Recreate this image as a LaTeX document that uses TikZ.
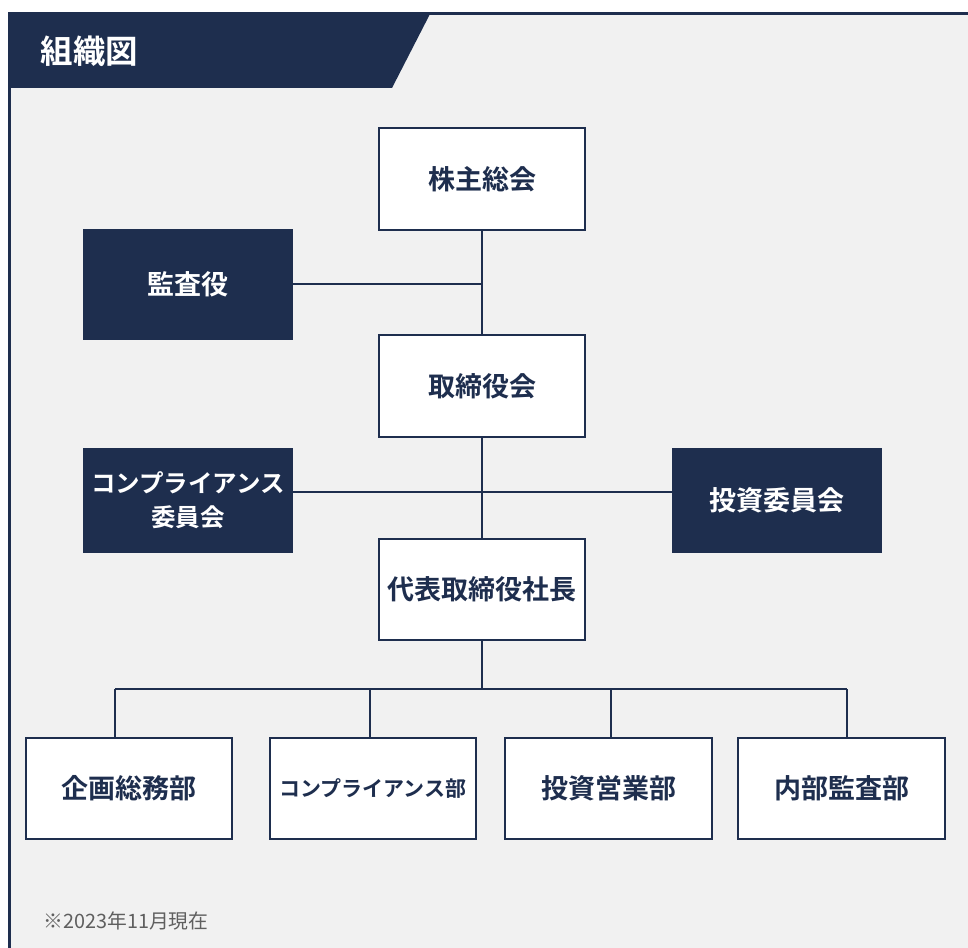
\documentclass[tikz,border=0pt]{standalone}
\usepackage{fontspec}
\setmainfont{Noto Sans CJK JP}[BoldFont={Noto Sans CJK JP Bold}]
\usetikzlibrary{positioning}

\definecolor{navy}{RGB}{30,46,78}
\definecolor{panelgray}{RGB}{241,241,241}
\definecolor{notegray}{RGB}{95,95,95}

\begin{document}
\begin{tikzpicture}[
    x=1pt, y=-1pt,
    frame/.style={
        draw=navy,
        line width=3pt,
    },
    link/.style={
        draw=navy,
        line width=1.4pt,
    },
    orgbox/.style={
        rectangle,
        draw=navy,
        line width=2.2pt,
        fill=white,
        text=navy,
        minimum width=206.5pt,
        minimum height=101.5pt,
        inner sep=0pt,
        align=center,
        font=\bfseries\fontsize{27}{32}\selectfont,
    },
    darkbox/.style={
        rectangle,
        fill=navy,
        text=white,
        minimum width=210pt,
        minimum height=105pt,
        inner sep=0pt,
        align=center,
        font=\bfseries\fontsize{27}{32}\selectfont,
    }
]
    \useasboundingbox (0,0) rectangle (968,947);
    \fill[white] (0,0) rectangle (968,947);

    % Panel
    \fill[panelgray] (9,14) rectangle (975,955);
    \draw[frame] (9,955) -- (9,14) -- (975,14);
    \fill[navy] (9,14) -- (430,14) -- (392,88) -- (9,88) -- cycle;
    \node[anchor=west, text=white, font=\bfseries\fontsize{32.5}{36}\selectfont] (title) at (37,51) {組織図};

    % Boxes
    \node[orgbox] (meeting) at (482,179) {株主総会};
    \node[darkbox, minimum height=111pt] (auditor) at (188,284) {監査役};
    \node[orgbox] (board) at (482,386) {取締役会};
    \node[darkbox, font=\bfseries\fontsize{24.5}{34}\selectfont] (compcomm) at (188,500) {コンプライアンス\\委員会};
    \node[darkbox] (invcomm) at (777,500) {投資委員会};
    \node[orgbox] (ceo) at (482,589.5) {代表取締役社長};

    % Departments
    \node[orgbox] (admin) at (129,788.5) {企画総務部};
    \node[orgbox, font=\bfseries\fontsize{21}{24}\selectfont] (compdept) at (373,788.5) {コンプライアンス部};
    \node[orgbox] (sales) at (608.5,788.5) {投資営業部};
    \node[orgbox] (internal) at (841.5,788.5) {内部監査部};

    % Connectors
    \coordinate (cross) at (482,492);
    \coordinate (bus) at (482,689);
    \coordinate (drop1) at (115,689);
    \coordinate (drop2) at (370,689);
    \coordinate (drop3) at (611,689);
    \coordinate (drop4) at (847,689);
    \draw[link] (meeting.south) -- (board.north);
    \draw[link] (auditor.east) -- (auditor.east -| meeting.south);
    \draw[link] (board.south) -- (ceo.north);
    \draw[link] (compcomm.east |- cross) -- (invcomm.west |- cross);
    \draw[link] (ceo.south) -- (bus);
    \draw[link] (drop1) -- (drop4);
    \draw[link] (drop1) -- (drop1 |- admin.north);
    \draw[link] (drop2) -- (drop2 |- compdept.north);
    \draw[link] (drop3) -- (drop3 |- sales.north);
    \draw[link] (drop4) -- (drop4 |- internal.north);

    % Note
    \node[anchor=west, text=notegray, font=\fontsize{19.8}{22}\selectfont] (note) at (40,921) {※2023年11月現在};
\end{tikzpicture}
\end{document}
